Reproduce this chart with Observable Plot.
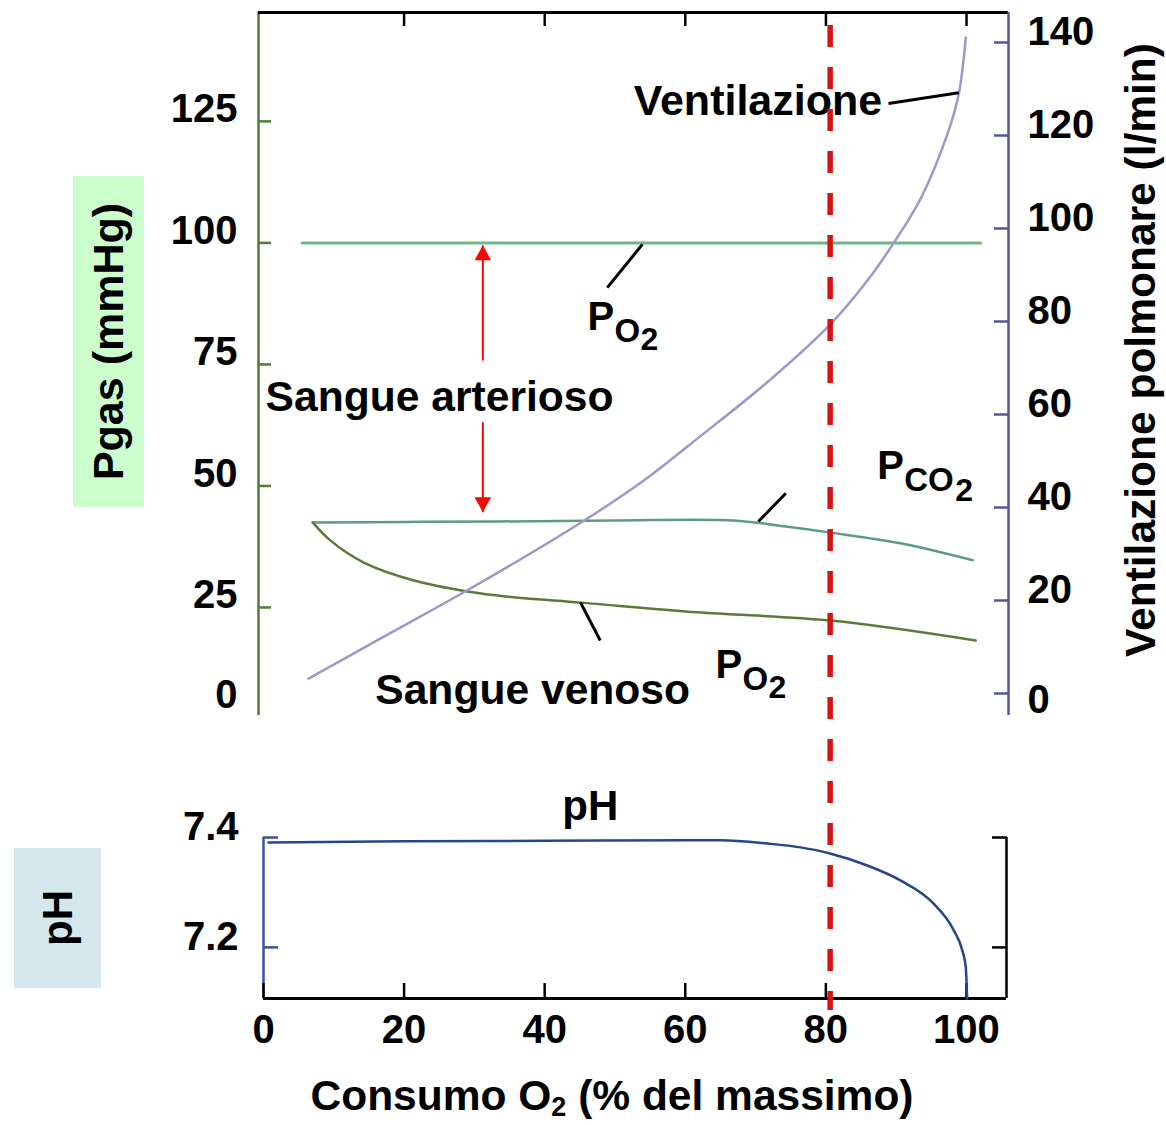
<!DOCTYPE html>
<html><head><meta charset="utf-8">
<script src="https://cdn.jsdelivr.net/npm/d3@7"></script>
<script src="https://cdn.jsdelivr.net/npm/@observablehq/plot@0.6"></script>
<style>
body{margin:0;background:#fff;}
#wrap{position:relative;width:1166px;height:1125px;overflow:hidden;font-family:"Liberation Sans",Arial,sans-serif;font-weight:bold;color:#000;}
#wrap svg{position:absolute;left:0;top:0;}
.box{position:absolute;display:flex;align-items:center;justify-content:center;}
.rot{transform:rotate(-90deg);white-space:nowrap;display:inline-block;}
.abs{position:absolute;white-space:nowrap;}
</style></head><body><div id="wrap"></div>
<script>
// ---------- data ----------
const pgasTicks = [25, 50, 75, 100, 125];
const pgasZeroLabel = ["0"];
const ventTicks = [0, 20, 40, 60, 80, 100, 120, 140];
const phTicks = [7.2, 7.4];
const xTicks = [0, 20, 40, 60, 80, 100];
const topTicks = [20, 40, 60, 80, 100];

// arterial PO2 (mmHg)
const po2ArtX = [5.5, 102];
const po2ArtY = [100, 100];
// PCO2 (mmHg)
const pco2X = [7.0, 20, 33.7, 50, 66.9, 74, 80.7, 90.6, 100.9];
const pco2Y = [42.5, 42.6, 42.7, 42.9, 42.9, 41.7, 40.4, 38.2, 34.7];
// venous PO2 (mmHg)
const po2VenX = [7.0, 9.5, 14.2, 21.3, 29.0, 35.6, 45.1, 61.7, 80.7, 101.3];
const po2VenY = [42.5, 38.8, 34.3, 30.6, 28.3, 27.1, 26.0, 24.0, 22.3, 18.2];
// ventilation (l/min)
const ventX = [6.4, 16.6, 29.0, 45.4, 54.1, 62.2, 71.7, 80.7, 85.9, 89.6, 93.5, 97.3, 98.9, 99.9];
const ventY = [3.2, 11.8, 22.2, 37.0, 45.8, 55.4, 67.0, 79.5, 88.8, 96.8, 106.5, 120.4, 129.0, 141.1];
// pH
const phX = [0.7, 20, 40, 60, 65, 71.7, 76.4, 80.6, 85.9, 90.6, 95.3, 98.2, 99.4, 99.9, 100.1];
const phY = [7.391, 7.393, 7.394, 7.395, 7.395, 7.389, 7.382, 7.371, 7.349, 7.322, 7.28, 7.231, 7.195, 7.165, 7.107];

// threshold (% of max O2 consumption)
const threshold = [80.6];

// annotations (data units)
const gasLabels = [
  {x: 46.1, y: 82.0, main: "P", sub: "O", sub2: "2"},
  {x: 64.3, y: 10.4, main: "P", sub: "O", sub2: "2"},
  {x: 87.3, y: 51.5, main: "P", sub: "CO", sub2: "2"}
];
const gasLeaders = [
  {x1: 48.9, y1: 90.8, x2: 53.9, y2: 99.7},
  {x1: 70.4, y1: 42.7, x2: 74.3, y2: 48.5},
  {x1: 45.1, y1: 26.0, x2: 47.9, y2: 18.2}
];
const regionLabels = [
  {x: 0.3, y: 65.5, text: "Sangue arterioso"},
  {x: 15.9, y: 5.2, text: "Sangue venoso"}
];
const arrowShafts = [
  {x: 31.2, y1: 75.8, y2: 99.5},
  {x: 31.2, y1: 63.1, y2: 44.6}
];
const arrowHeads = [
  {x: 31.2, y: 99.5, rot: 0},
  {x: 31.2, y: 44.6, rot: 180}
];
const ventLabel = [{x: 88.0, y: 124.3, text: "Ventilazione"}];
const ventLeader = [{x1: 88.9, y1: 126.9, x2: 98.9, y2: 129.2}];
const phLabel = [{x: 46.5, y: 7.431, text: "pH"}];

// ---------- layout ----------
const W = 1166, H = 1125;
const FONT = '"Liberation Sans", Arial, sans-serif';
const xDomTop = [-0.71, 105.97];
const pgasDom = [2.78, 147.4];
const ventDom = [-4.73, 146.45];
const phDom = [7.107, 7.4];
const xDomBot = [0, 105.7];

const C = {
  greenAx: "#4f7d33", art: "#6fb585", pco2: "#5e9c80", ven: "#5a7a38",
  vent: "#9d97cc", blueAx: "#55559e", ph: "#24478a", phAx: "#3b4fa8",
  dash: "#d41414", arrow: "#ff0000"
};
const zip = (xs, ys) => xs.map((x, i) => ({x, y: ys[i]}));
const svgStyle = {background: "transparent", fontFamily: FONT, fontWeight: "bold", overflow: "visible"};
const TXT = {fontSize: 40, fontWeight: "bold", fill: "black"};

const triUp = {draw(ctx, size) { const r = Math.sqrt(size / Math.PI); ctx.moveTo(0, 0); ctx.lineTo(-r * 0.55, r); ctx.lineTo(r * 0.55, r); ctx.closePath(); }};

// Panel A: gas pressures (left axis)
const plotA = Plot.plot({
  width: W, height: H, marginTop: 12, marginBottom: H - 715, marginLeft: 258, marginRight: W - 1008,
  x: {domain: xDomTop}, y: {domain: pgasDom},
  style: svgStyle,
  marks: [
    Plot.ruleX([xDomTop[0]], {stroke: C.greenAx, strokeWidth: 2.5}),
    Plot.ruleY([pgasDom[1]], {stroke: "black", strokeWidth: 3}),
    Plot.axisX({anchor: "top", ticks: topTicks, tickSize: -13, tickFormat: () => "", label: null, stroke: "black", strokeWidth: 2.5}),
    Plot.axisY({anchor: "left", ticks: pgasTicks, tickSize: -13, tickFormat: () => "", label: null, stroke: C.greenAx, strokeWidth: 2.5}),
    Plot.text(pgasTicks, {y: d => d, text: d => String(d), frameAnchor: "left", dx: -21, dy: -12, textAnchor: "end", lineAnchor: "middle", ...TXT}),
    Plot.text(pgasZeroLabel, {frameAnchor: "bottom-left", dx: -21, dy: -20, textAnchor: "end", lineAnchor: "middle", ...TXT}),
    Plot.line(zip(po2ArtX, po2ArtY), {x: "x", y: "y", stroke: C.art, strokeWidth: 3}),
    Plot.line(zip(pco2X, pco2Y), {x: "x", y: "y", stroke: C.pco2, strokeWidth: 2.5, curve: "catmull-rom"}),
    Plot.line(zip(po2VenX, po2VenY), {x: "x", y: "y", stroke: C.ven, strokeWidth: 2.5, curve: "catmull-rom"}),
    Plot.link(gasLeaders, {x1: "x1", y1: "y1", x2: "x2", y2: "y2", stroke: "black", strokeWidth: 3}),
    Plot.link(arrowShafts, {x1: "x", x2: "x", y1: "y1", y2: "y2", stroke: C.arrow, strokeWidth: 2}),
    Plot.dot(arrowHeads, {x: "x", y: "y", rotate: "rot", symbol: triUp, r: 15, fill: C.arrow, stroke: null}),
    Plot.text(regionLabels, {x: "x", y: "y", text: "text", textAnchor: "start", lineAnchor: "bottom", fontSize: 42.6, fontWeight: "bold"}),
    Plot.text(gasLabels, {x: "x", y: "y", text: "main", textAnchor: "start", lineAnchor: "bottom", fontSize: 40, fontWeight: "bold"}),
    Plot.text(gasLabels, {x: "x", y: "y", text: "sub", textAnchor: "start", lineAnchor: "bottom", dx: 27, dy: 12, fontSize: 33, fontWeight: "bold"}),
    Plot.text(gasLabels.filter(d => d.sub === "O"), {x: "x", y: "y", text: "sub2", textAnchor: "start", lineAnchor: "bottom", dx: 53, dy: 20, fontSize: 32, fontWeight: "bold"}),
    Plot.text(gasLabels.filter(d => d.sub === "CO"), {x: "x", y: "y", text: "sub2", textAnchor: "start", lineAnchor: "bottom", dx: 78, dy: 22, fontSize: 32, fontWeight: "bold"})
  ]
});

// Panel B: ventilation (right axis)
const plotB = Plot.plot({
  width: W, height: H, marginTop: 12, marginBottom: H - 715, marginLeft: 258, marginRight: W - 1008,
  x: {domain: xDomTop, axis: null}, y: {domain: ventDom},
  style: svgStyle,
  marks: [
    Plot.ruleX([xDomTop[1]], {stroke: C.blueAx, strokeWidth: 2.5}),
    Plot.axisY({anchor: "right", ticks: ventTicks, tickSize: -15, tickFormat: () => "", label: null, stroke: C.blueAx, strokeWidth: 2.5}),
    Plot.text(ventTicks.filter(v => v > 0), {y: d => d, text: d => String(d), frameAnchor: "right", dx: 19, dy: -10, textAnchor: "start", lineAnchor: "middle", ...TXT}),
    Plot.text(ventTicks.filter(v => v === 0), {y: d => d, text: d => String(d), frameAnchor: "right", dx: 19, dy: 7, textAnchor: "start", lineAnchor: "middle", ...TXT}),
    Plot.line(zip(ventX, ventY), {x: "x", y: "y", stroke: C.vent, strokeWidth: 2.5, curve: "catmull-rom"}),
    Plot.link(ventLeader, {x1: "x1", y1: "y1", x2: "x2", y2: "y2", stroke: "black", strokeWidth: 3}),
    Plot.text(ventLabel, {x: "x", y: "y", text: "text", textAnchor: "end", lineAnchor: "bottom", fontSize: 43, fontWeight: "bold"})
  ]
});

// Panel C: pH
const plotC = Plot.plot({
  width: W, height: H, marginTop: 837, marginBottom: H - 998, marginLeft: 263, marginRight: W - 1006,
  x: {domain: xDomBot}, y: {domain: phDom},
  style: svgStyle,
  marks: [
    Plot.ruleX([xDomBot[0]], {stroke: C.phAx, strokeWidth: 2.5}),
    Plot.ruleX([xDomBot[1]], {stroke: "black", strokeWidth: 2.5}),
    Plot.ruleY([phDom[0]], {stroke: "black", strokeWidth: 3}),
    Plot.axisY({anchor: "left", ticks: phTicks, tickSize: -15, tickFormat: () => "", label: null, stroke: C.phAx, strokeWidth: 2.5}),
    Plot.text(phTicks, {y: d => d, text: d => d.toFixed(1), frameAnchor: "left", dx: -25, dy: -10, textAnchor: "end", lineAnchor: "middle", ...TXT}),
    Plot.axisY({anchor: "right", ticks: phTicks, tickSize: -15, tickFormat: () => "", label: null, stroke: "black", strokeWidth: 2.5}),
    Plot.axisX({anchor: "bottom", ticks: xTicks, tickSize: -15, tickPadding: 31, label: null, stroke: "black", strokeWidth: 2.5, fill: "black", fontSize: 40, fontWeight: "bold"}),
    Plot.line(zip(phX, phY), {x: "x", y: "y", stroke: C.ph, strokeWidth: 2.5, curve: "monotone-x"}),
    Plot.text(phLabel, {x: "x", y: "y", text: "text", textAnchor: "middle", lineAnchor: "bottom", fontSize: 42, fontWeight: "bold"})
  ]
});

// Panel D: threshold dashed line across both panels
const plotD = Plot.plot({
  width: W, height: H, marginTop: 25, marginBottom: H - 1010, marginLeft: 258, marginRight: W - 1008,
  x: {domain: xDomTop, axis: null},
  style: svgStyle,
  marks: [
    Plot.ruleX(threshold, {stroke: C.dash, strokeWidth: 5.5, strokeDasharray: "22,20"})
  ]
});

const wrap = document.getElementById("wrap");
[plotA, plotB, plotC, plotD].forEach(p => wrap.appendChild(p));

// axis titles (HTML text)
wrap.insertAdjacentHTML("beforeend", `
  <div class="box" style="left:73px;top:176px;width:71px;height:331px;background:#ccfdcc;">
    <span class="rot" style="font-size:43px;">Pgas (mmHg)</span></div>
  <div class="box" style="left:14px;top:848px;width:87px;height:140px;background:#d4e7ed;">
    <span class="rot" style="font-size:42px;">pH</span></div>
  <div class="abs" style="left:1141px;top:350px;font-size:42.5px;transform:translate(-50%,-50%) rotate(-90deg);">Ventilazione polmonare (l/min)</div>
  <div class="abs" style="left:612px;top:1075px;font-size:42.5px;line-height:1;transform:translateX(-50%);">Consumo O<span style="font-size:27px;line-height:0;vertical-align:-6px;">2</span> (% del massimo)</div>
`);
</script></body></html>
